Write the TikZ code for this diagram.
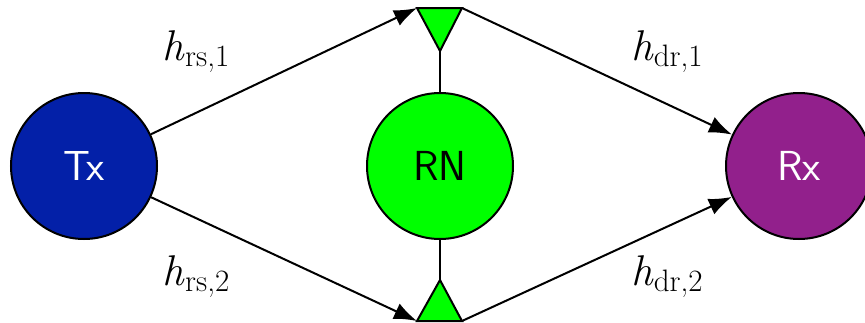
\documentclass[tikz,border=0pt]{standalone}
\usetikzlibrary{arrows.meta}
\definecolor{txblue}{RGB}{3,32,168}
\definecolor{rxpurple}{RGB}{146,32,140}
\definecolor{rngreen}{RGB}{0,255,0}
% channel coefficient h with an upright subscript
\newcommand{\chan}[2]{\textit{h}\raisebox{-0.15em}{\fontsize{31}{32}\selectfont #1,#2}}
\begin{document}
\begin{tikzpicture}[x=1pt, y=-1pt, line width=2pt,
  station/.style={circle, draw=black, line width=2pt, minimum size=146pt,
    inner sep=0pt, font=\sffamily\fontsize{42}{44}\selectfont},
  link/.style={-{Latex[length=23pt,width=17pt]}},
  gain/.style={inner sep=0pt, anchor=base, font=\fontsize{43}{45}\selectfont},
  antenna/.style={fill=rngreen, draw=black, line width=2pt, line join=miter}]
\useasboundingbox (0,0) rectangle (865,322);

% terminals and relay
\node[station, fill=txblue, text=white] (tx) at (84,166) {\raisebox{-3pt}{Tx}};
\node[station, fill=rngreen, text=black] (rn) at (440,166) {RN};
\node[station, fill=rxpurple, text=white] (rx) at (799,166) {Rx};

% relay antennas (corners as named coordinates)
\coordinate (a1l) at (417,8);
\coordinate (a1r) at (462,8);
\coordinate (a1t) at (440,51);
\coordinate (a2l) at (417,321);
\coordinate (a2r) at (462,321);
\coordinate (a2t) at (440,280);
\draw (a1t) -- (rn.north);
\draw (rn.south) -- (a2t);
\draw[antenna] (a1l) -- (a1r) -- (a1t) -- cycle;
\draw[antenna] (a2l) -- (a2r) -- (a2t) -- cycle;

% channel links
\draw[link] (tx) -- (a1l);
\draw[link] (tx) -- (a2l);
\draw[link] (a1r) -- (rx);
\draw[link] (a2r) -- (rx);

% channel labels
\node[gain] (g1) at (196,60) {\chan{rs}{1}};
\node[gain] (g2) at (196,285) {\chan{rs}{2}};
\node[gain] (g3) at (667,60) {\chan{dr}{1}};
\node[gain] (g4) at (667,285) {\chan{dr}{2}};
\end{tikzpicture}
\end{document}
